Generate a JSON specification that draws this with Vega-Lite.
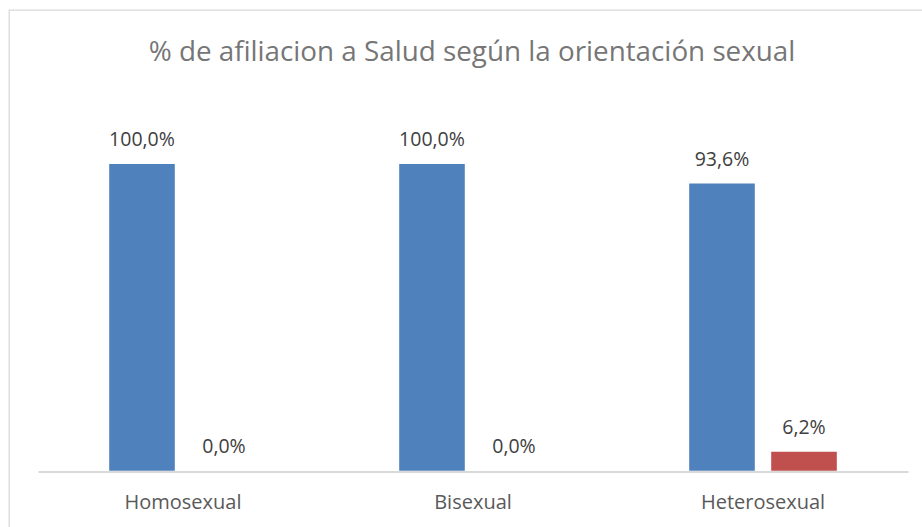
{
  "$schema": "https://vega.github.io/schema/vega-lite/v6.json",
  "width": 918,
  "height": 522,
  "autosize": {"type": "none"},
  "padding": {"left": 9, "top": 10, "right": -5, "bottom": -5},
  "background": "white",
  "config": {
    "view": {"stroke": "#d9d9d9", "strokeWidth": 1.3},
    "font": "Open Sans",
    "locale": {"number": {"decimal": ",", "thousands": ".", "grouping": [3], "currency": ["", " €"]}}
  },
  "title": {
    "text": "% de afiliacion a Salud según la orientación sexual",
    "fontSize": 27.8,
    "font": "Open Sans",
    "fontWeight": "normal",
    "color": "#767676",
    "orient": "top",
    "anchor": "middle",
    "frame": "group",
    "baseline": "alphabetic",
    "offset": -79,
    "dx": 4
  },
  "data": {
    "values": [
      {"orientacion": "Homosexual", "afiliacion": "Afiliado", "pct": 1.0},
      {"orientacion": "Homosexual", "afiliacion": "No afiliado", "pct": 0.0},
      {"orientacion": "Bisexual", "afiliacion": "Afiliado", "pct": 1.0},
      {"orientacion": "Bisexual", "afiliacion": "No afiliado", "pct": 0.0},
      {"orientacion": "Heterosexual", "afiliacion": "Afiliado", "pct": 0.936},
      {"orientacion": "Heterosexual", "afiliacion": "No afiliado", "pct": 0.062}
    ]
  },
  "encoding": {
    "x": {
      "field": "orientacion",
      "type": "nominal",
      "sort": null,
      "scale": {"range": [29, 899], "paddingInner": 0, "paddingOuter": 0},
      "axis": {
        "title": null,
        "orient": "bottom",
        "offset": -60.5,
        "domainColor": "#d9d9d9",
        "domainWidth": 2,
        "ticks": false,
        "labelAngle": 0,
        "labelFontSize": 20,
        "labelColor": "#595959",
        "labelPadding": 20.5,
        "labelFont": "Open Sans"
      }
    },
    "xOffset": {
      "field": "afiliacion",
      "type": "nominal",
      "sort": null,
      "scale": {"paddingInner": 0.2, "paddingOuter": 0.868}
    },
    "y": {
      "field": "pct",
      "type": "quantitative",
      "stack": null,
      "scale": {"domain": [-0.2, 1.5016], "nice": false, "zero": false},
      "axis": null
    }
  },
  "layer": [
    {
      "mark": {"type": "bar"},
      "encoding": {
        "color": {
          "field": "afiliacion",
          "type": "nominal",
          "sort": null,
          "scale": {"range": ["#4f81bd", "#c0504d"]},
          "legend": null
        }
      }
    },
    {
      "mark": {"type": "text", "baseline": "alphabetic", "dy": -17.5, "fontSize": 19.5, "color": "#404040", "font": "Open Sans"},
      "encoding": {
        "text": {"field": "pct", "type": "quantitative", "format": ".1%"}
      }
    }
  ]
}
